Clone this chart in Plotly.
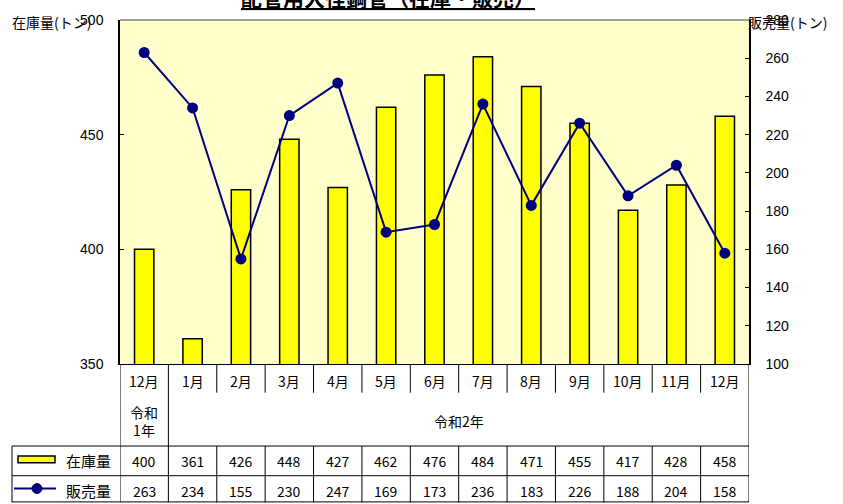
import plotly.graph_objects as go

months = ["12月", "1月", "2月", "3月", "4月", "5月", "6月", "7月", "8月", "9月", "10月", "11月", "12月"]
stock = [400, 361, 426, 448, 427, 462, 476, 484, 471, 455, 417, 428, 458]
sales = [263, 234, 155, 230, 247, 169, 173, 236, 183, 226, 188, 204, 158]
era_first = "令和<br>1年"
era_rest = "令和2年"
title_text = "配管用大径鋼管（在庫・販売）"
stock_name = "在庫量"
sales_name = "販売量"
left_title = "在庫量(トン)"
right_title = "販売量(トン)"

W, H = 843, 504
L, R, T, B = 120, 749, 16, 364
PW, PH = R - L, B - T

def px(x):
    return (x - L) / PW

def py(y):
    return (B - y) / PH

JP = "Noto Sans CJK JP"
NUM = "Liberation Sans"

xs = list(range(len(months)))

fig = go.Figure()
fig.add_trace(go.Bar(x=xs, y=stock, name=stock_name, yaxis="y",
                     marker=dict(color="#FFFF00", line=dict(color="black", width=1.5)),
                     width=0.4))
fig.add_trace(go.Scatter(x=xs, y=sales, name=sales_name, yaxis="y2", mode="lines+markers",
                         line=dict(color="#000080", width=2),
                         marker=dict(color="#000080", size=11)))

shapes = []
ann = []
line_black = dict(color="black", width=1)

# top border (gray)
shapes.append(dict(type="line", xref="paper", yref="paper", x0=0, x1=1, y0=1, y1=1,
                   line=dict(color="#808080", width=1.5)))

# table vertical lines
n = len(months)
for i in range(n + 1):
    xb = i - 0.5
    if i in (0, 1, n):
        shapes.append(dict(type="line", xref="x", yref="paper", x0=xb, x1=xb,
                           y0=py(B), y1=py(504), line=line_black))
    else:
        shapes.append(dict(type="line", xref="x", yref="paper", x0=xb, x1=xb,
                           y0=py(B), y1=py(393), line=line_black))
        shapes.append(dict(type="line", xref="x", yref="paper", x0=xb, x1=xb,
                           y0=py(447), y1=py(504), line=line_black))
# horizontal lines
for yy in (447, 477, 503.5):
    shapes.append(dict(type="line", xref="paper", yref="paper", x0=px(12), x1=1,
                       y0=py(yy), y1=py(yy), line=line_black))
# legend column left border
shapes.append(dict(type="line", xref="paper", yref="paper", x0=px(12), x1=px(12),
                   y0=py(447), y1=py(504), line=line_black))
# legend symbols
shapes.append(dict(type="rect", xref="paper", yref="paper", x0=px(18), x1=px(55),
                   y0=py(457), y1=py(464), fillcolor="#FFFF00", line=dict(color="black", width=1.5)))
shapes.append(dict(type="line", xref="paper", yref="paper", x0=px(14), x1=px(56),
                   y0=py(490), y1=py(490), line=dict(color="#000080", width=2)))
shapes.append(dict(type="circle", xref="paper", yref="paper", x0=px(32), x1=px(42),
                   y0=py(485), y1=py(495), fillcolor="#000080", line=dict(color="#000080", width=1)))

def txt(x, y, s, xref="paper", size=14, xanchor="center", yanchor="middle"):
    ann.append(dict(x=x, y=y, xref=xref, yref="paper", text=s, showarrow=False,
                    xanchor=xanchor, yanchor=yanchor,
                    font=dict(family=JP, size=size, color="black")))

for i, m in enumerate(months):
    txt(i, py(381), m, xref="x")
    txt(i, py(462), str(stock[i]), xref="x")
    txt(i, py(492), str(sales[i]), xref="x")
txt(0, py(422), era_first, xref="x")
txt(6.5, py(422), era_rest, xref="x")
txt(px(88), py(462), stock_name, size=15)
txt(px(88), py(492), sales_name, size=15)
# axis titles
txt(px(10), py(18), left_title, xanchor="left")
txt(px(746), py(18), right_title, xanchor="left")
# title
txt(px(388), py(10), "<b><u>" + title_text + "</u></b>", size=21, yanchor="bottom")

fig.update_layout(
    width=W, height=H,
    margin=dict(l=L, r=W - R, t=T, b=H - B, pad=0),
    paper_bgcolor="white", plot_bgcolor="#FFFFCC",
    showlegend=False,
    shapes=shapes, annotations=ann,
    xaxis=dict(range=[-0.5, n - 0.5], showticklabels=False, ticks="", showgrid=False,
               showline=True, linecolor="black", linewidth=1, zeroline=False, fixedrange=True),
    yaxis=dict(range=[350, 500], dtick=50, showgrid=False, zeroline=False, showline=True,
               linecolor="black", linewidth=1.5, ticks="inside", ticklen=4, tickcolor="black",
               ticklabelstandoff=12, tickfont=dict(family=NUM, size=14, color="black")),
    yaxis2=dict(range=[100, 280], dtick=20, overlaying="y", side="right", showgrid=False,
                zeroline=False, showline=True, linecolor="black", linewidth=1.5,
                ticks="inside", ticklen=4, tickcolor="black", ticklabelstandoff=12,
                tickfont=dict(family=NUM, size=14, color="black")),
)

fig.write_html("out.html", config={"displayModeBar": False},
               post_script="document.body.style.margin='0';document.body.style.overflow='hidden';")
